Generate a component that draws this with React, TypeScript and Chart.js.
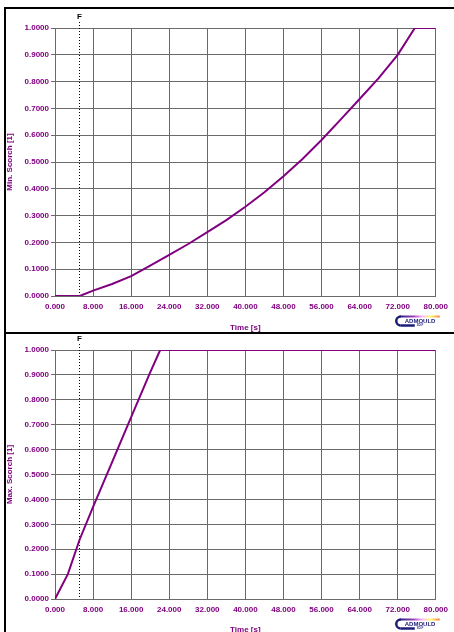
import React, { useEffect, useRef } from 'react';
import { Chart, registerables } from 'chart.js';

Chart.register(...registerables);

// ---- Data ----
const minTimes = [0, 5.2, 8, 12, 16, 20, 24, 28, 32, 36, 40, 44, 48, 52, 56, 60, 64, 68, 72, 75.6, 80];
const minScorch = [0, 0, 0.02, 0.045, 0.074, 0.113, 0.153, 0.194, 0.238, 0.283, 0.333, 0.387, 0.447, 0.511, 0.582, 0.658, 0.735, 0.813, 0.9, 1.0, 1.0];

const maxTimes = [0, 2.7, 5.2, 8, 12, 16, 20, 22.1, 80];
const maxScorch = [0, 0.1, 0.24, 0.37, 0.55, 0.73, 0.91, 1.0, 1.0];

const F_TIME = 5.0;
const X_MIN = 0;
const X_MAX = 80;
const X_STEP = 8;
const Y_MIN = 0;
const Y_MAX = 1;
const Y_STEP = 0.1;

const PURPLE = '#800080';
const GRID = '#6a6a6a';
const FONT = '"Liberation Sans", Arial, sans-serif';

const decorPlugin = {
  id: 'decor',
  beforeDatasetsDraw(chart: any) {
    const { ctx, chartArea, scales } = chart;
    const px = Math.round(scales.x.getPixelForValue(F_TIME)) + 0.5;
    ctx.save();
    ctx.strokeStyle = '#000';
    ctx.lineWidth = 1;
    ctx.setLineDash([1, 2]);
    ctx.beginPath();
    ctx.moveTo(px, chartArea.top - 6);
    ctx.lineTo(px, chartArea.bottom);
    ctx.stroke();
    ctx.restore();
  },
  afterDraw(chart: any) {
    const { ctx, chartArea, scales } = chart;
    const px = Math.round(scales.x.getPixelForValue(F_TIME)) + 0.5;
    ctx.save();
    ctx.fillStyle = '#000';
    ctx.font = 'bold 8px ' + FONT;
    ctx.textAlign = 'center';
    ctx.textBaseline = 'middle';
    ctx.fillText('F', px, chartArea.top - 11);

    // logo
    const lx = chartArea.right - 41;
    const ly = chartArea.bottom + 19;
    const grad = ctx.createLinearGradient(lx + 4, 0, lx + 46, 0);
    grad.addColorStop(0, '#1c1c7a');
    grad.addColorStop(0.35, '#a040c0');
    grad.addColorStop(0.55, '#ffb0ff');
    grad.addColorStop(0.75, '#ffff70');
    grad.addColorStop(1, '#ff7040');
    ctx.strokeStyle = grad;
    ctx.lineWidth = 2;
    ctx.beginPath();
    ctx.moveTo(lx + 5, ly + 1.5);
    ctx.lineTo(lx + 45, ly + 1.5);
    ctx.stroke();
    ctx.strokeStyle = '#1c1c7a';
    ctx.lineWidth = 2.5;
    ctx.beginPath();
    ctx.arc(lx + 6, ly + 6, 4.5, Math.PI * 1.5, Math.PI * 0.5, true);
    ctx.stroke();
    ctx.beginPath();
    ctx.moveTo(lx + 6, ly + 10.5);
    ctx.lineTo(lx + 20, ly + 10.5);
    ctx.stroke();
    ctx.fillStyle = '#1c1c7a';
    ctx.font = 'bold 6px ' + FONT;
    ctx.textAlign = 'left';
    ctx.textBaseline = 'middle';
    ctx.fillText('ADMOULD', lx + 10, ly + 6);
    ctx.font = 'bold 3px ' + FONT;
    ctx.fillText('3D-F', lx + 22, ly + 10.5);
    ctx.restore();
  },
};

function makeConfig(times: number[], values: number[], yTitle: string, padTop: number, xHeight: number): any {
  return {
    type: 'line',
    data: {
      datasets: [
        {
          data: times.map((t, i) => ({ x: t, y: values[i] })),
          borderColor: PURPLE,
          borderWidth: 2,
          pointRadius: 0,
          fill: false,
          tension: 0,
        },
      ],
    },
    options: {
      animation: false,
      responsive: false,
      events: [],
      layout: { padding: { top: padTop, right: 13, left: 0, bottom: 0 } },
      plugins: { legend: { display: false }, tooltip: { enabled: false }, title: { display: false } },
      scales: {
        x: {
          type: 'linear',
          min: X_MIN,
          max: X_MAX,
          afterFit: (s: any) => { s.height = xHeight; },
          grid: { color: GRID, lineWidth: 1, drawTicks: false },
          border: { color: GRID, width: 1 },
          ticks: {
            stepSize: X_STEP,
            padding: 6,
            color: PURPLE,
            font: { family: FONT, size: 8, weight: 'bold' },
            callback: (v: number) => Number(v).toFixed(3),
            maxRotation: 0,
          },
          title: {
            display: true,
            text: 'Time [s]',
            color: PURPLE,
            font: { family: FONT, size: 8, weight: 'bold' },
            padding: { top: 0, bottom: 0 },
          },
        },
        y: {
          type: 'linear',
          min: Y_MIN,
          max: Y_MAX,
          afterFit: (s: any) => { s.width = 55; },
          grid: { color: GRID, lineWidth: 1, drawTicks: true, tickLength: 4 },
          border: { color: GRID, width: 1 },
          ticks: {
            stepSize: Y_STEP,
            padding: 2,
            color: PURPLE,
            font: { family: FONT, size: 8, weight: 'bold' },
            callback: (v: number) => Number(v).toFixed(4),
          },
          title: {
            display: true,
            text: yTitle,
            color: PURPLE,
            font: { family: FONT, size: 8, weight: 'bold' },
            padding: { top: 5, bottom: 0 },
          },
        },
      },
    },
    plugins: [decorPlugin],
  };
}

function ChartCanvas(props: { cfg: () => any; width: number; height: number; top: number }) {
  const ref = useRef<HTMLCanvasElement | null>(null);
  useEffect(() => {
    if (!ref.current) return;
    const chart = new Chart(ref.current, props.cfg());
    return () => chart.destroy();
  }, []);
  return (
    <canvas
      ref={ref}
      width={props.width}
      height={props.height}
      style={{ position: 'absolute', left: 0, top: props.top, width: props.width, height: props.height, display: 'block' }}
    />
  );
}

export default function App() {
  return (
    <div
      style={{
        position: 'fixed',
        left: 0,
        top: 0,
        width: 454,
        height: 632,
        overflow: 'hidden',
        background: '#fff',
      }}
    >
      <ChartCanvas cfg={() => makeConfig(minTimes, minScorch, 'Min. Scorch [1]', 28, 37)} width={454} height={333} top={0} />
      <ChartCanvas cfg={() => makeConfig(maxTimes, maxScorch, 'Max. Scorch [1]', 17, 36)} width={454} height={302} top={333} />
      <div style={{ position: 'absolute', left: 4, top: 7, width: 450, height: 2, background: '#000' }} />
      <div style={{ position: 'absolute', left: 4, top: 7, width: 2, height: 625, background: '#000' }} />
      <div style={{ position: 'absolute', left: 4, top: 332, width: 450, height: 2, background: '#000' }} />
    </div>
  );
}
